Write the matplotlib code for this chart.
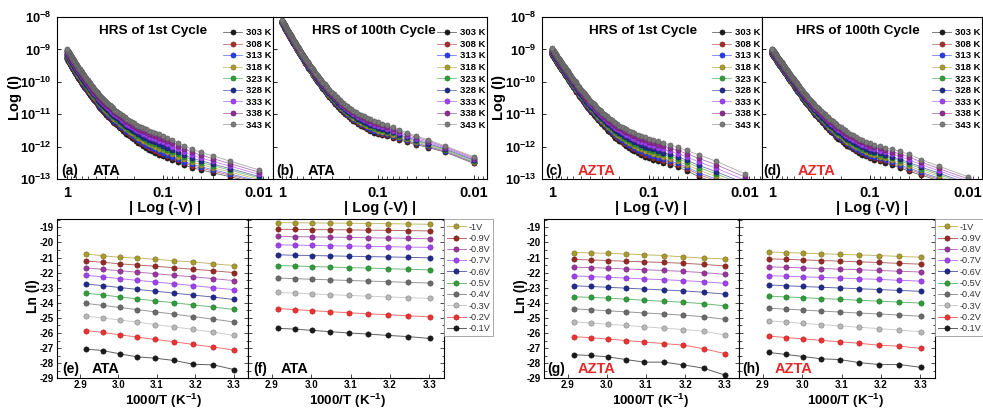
import numpy as np
import matplotlib
matplotlib.use("Agg")
import matplotlib.pyplot as plt
from matplotlib.ticker import FixedLocator, NullFormatter, LogLocator, MultipleLocator
from matplotlib.colors import to_rgb

plt.rcParams["font.family"] = ["Liberation Sans", "DejaVu Sans"]
plt.rcParams["mathtext.fontset"] = "custom"
plt.rcParams["mathtext.rm"] = "Liberation Sans"
plt.rcParams["mathtext.bf"] = "Liberation Sans:bold"
plt.rcParams["axes.unicode_minus"] = False
plt.rcParams["axes.linewidth"] = 0.8

W, H = 983, 409

# ---------------------------------------------------------------- data
temps_K = [303, 308, 313, 318, 323, 328, 333, 338, 343]
temp_labels = [f"{t} K" for t in temps_K]
temp_colors = ["#1a1a1a", "#a3302b", "#2a3cf0", "#a89b2c", "#2f9e3a",
               "#1f2a8a", "#a040f5", "#8f2a92", "#7b7b7b"]
# where each temperature sits between the 303 K and the 343 K sweep
temp_pos = [0.0, 0.1, 0.18, 0.3, 0.42, 0.52, 0.68, 0.84, 1.0]

# reverse sweep |V| = 0.01 ... 1.00 V
sweep_V = np.arange(1, 101) / 100

# log10(I) of the 303 K (lo) and 343 K (hi) sweeps, |V| = 0.01 ... 1.00
lo_a = [-13.14, -12.93, -12.81, -12.72, -12.65, -12.57, -12.49, -12.42, -12.36, -12.30,
        -12.25, -12.19, -12.14, -12.09, -12.04, -11.98, -11.93, -11.88, -11.82, -11.77,
        -11.73, -11.68, -11.64, -11.60, -11.56, -11.51, -11.47, -11.43, -11.38, -11.34,
        -11.30, -11.27, -11.23, -11.19, -11.16, -11.12, -11.08, -11.04, -11.01, -10.97,
        -10.94, -10.90, -10.87, -10.83, -10.80, -10.77, -10.73, -10.70, -10.66, -10.63,
        -10.60, -10.57, -10.54, -10.51, -10.48, -10.44, -10.41, -10.38, -10.35, -10.32,
        -10.29, -10.26, -10.23, -10.20, -10.18, -10.15, -10.12, -10.09, -10.06, -10.03,
        -10.00, -9.98, -9.95, -9.93, -9.90, -9.87, -9.85, -9.82, -9.80, -9.77,
        -9.74, -9.72, -9.69, -9.67, -9.64, -9.61, -9.59, -9.56, -9.54, -9.51,
        -9.49, -9.46, -9.44, -9.42, -9.40, -9.37, -9.35, -9.33, -9.30, -9.28]
hi_a = [-12.72, -12.45, -12.29, -12.18, -12.08, -11.98, -11.88, -11.80, -11.73, -11.66,
        -11.62, -11.58, -11.55, -11.51, -11.47, -11.43, -11.39, -11.36, -11.32, -11.28,
        -11.24, -11.21, -11.17, -11.14, -11.10, -11.06, -11.03, -10.99, -10.96, -10.92,
        -10.89, -10.86, -10.82, -10.79, -10.76, -10.73, -10.70, -10.66, -10.63, -10.60,
        -10.57, -10.54, -10.50, -10.47, -10.44, -10.41, -10.38, -10.34, -10.31, -10.28,
        -10.25, -10.22, -10.19, -10.16, -10.13, -10.10, -10.07, -10.04, -10.01, -9.98,
        -9.95, -9.93, -9.90, -9.87, -9.85, -9.82, -9.79, -9.76, -9.74, -9.71,
        -9.69, -9.66, -9.64, -9.61, -9.59, -9.56, -9.54, -9.51, -9.49, -9.46,
        -9.44, -9.41, -9.39, -9.36, -9.34, -9.32, -9.29, -9.27, -9.24, -9.22,
        -9.20, -9.18, -9.15, -9.13, -9.11, -9.09, -9.07, -9.04, -9.02, -9.00]

lo_b = [-12.52, -12.17, -12.03, -11.94, -11.86, -11.79, -11.73, -11.68, -11.65, -11.62,
        -11.57, -11.51, -11.46, -11.41, -11.36, -11.30, -11.25, -11.20, -11.14, -11.09,
        -11.04, -10.98, -10.93, -10.88, -10.83, -10.77, -10.72, -10.67, -10.61, -10.56,
        -10.51, -10.46, -10.42, -10.37, -10.32, -10.27, -10.22, -10.18, -10.13, -10.08,
        -10.04, -10.00, -9.96, -9.92, -9.88, -9.83, -9.79, -9.75, -9.71, -9.67,
        -9.63, -9.60, -9.56, -9.53, -9.49, -9.45, -9.42, -9.38, -9.35, -9.31,
        -9.28, -9.24, -9.21, -9.18, -9.15, -9.11, -9.08, -9.05, -9.01, -8.98,
        -8.95, -8.92, -8.89, -8.86, -8.84, -8.81, -8.78, -8.75, -8.72, -8.69,
        -8.66, -8.64, -8.61, -8.58, -8.56, -8.53, -8.50, -8.47, -8.45, -8.42,
        -8.40, -8.37, -8.35, -8.32, -8.30, -8.27, -8.25, -8.22, -8.20, -8.17]
hi_b = [-12.32, -11.98, -11.79, -11.67, -11.57, -11.48, -11.40, -11.34, -11.29, -11.24,
        -11.20, -11.15, -11.11, -11.06, -11.02, -10.98, -10.93, -10.89, -10.84, -10.80,
        -10.75, -10.71, -10.66, -10.62, -10.57, -10.52, -10.48, -10.43, -10.39, -10.34,
        -10.30, -10.25, -10.21, -10.17, -10.13, -10.08, -10.04, -10.00, -9.95, -9.91,
        -9.87, -9.83, -9.80, -9.76, -9.72, -9.68, -9.64, -9.61, -9.57, -9.53,
        -9.50, -9.46, -9.43, -9.39, -9.36, -9.33, -9.29, -9.26, -9.22, -9.19,
        -9.16, -9.13, -9.10, -9.07, -9.04, -9.00, -8.97, -8.94, -8.91, -8.88,
        -8.85, -8.82, -8.80, -8.77, -8.74, -8.71, -8.68, -8.66, -8.63, -8.60,
        -8.57, -8.55, -8.52, -8.50, -8.47, -8.44, -8.42, -8.39, -8.37, -8.34,
        -8.32, -8.29, -8.27, -8.24, -8.22, -8.20, -8.17, -8.15, -8.12, -8.10]

lo_c = [-13.45, -13.12, -12.93, -12.75, -12.63, -12.56, -12.50, -12.45, -12.40, -12.36,
        -12.31, -12.25, -12.20, -12.14, -12.09, -12.04, -11.98, -11.93, -11.87, -11.82,
        -11.77, -11.72, -11.66, -11.61, -11.56, -11.51, -11.46, -11.40, -11.35, -11.30,
        -11.26, -11.22, -11.17, -11.13, -11.09, -11.05, -11.01, -10.96, -10.92, -10.88,
        -10.84, -10.80, -10.77, -10.73, -10.69, -10.65, -10.61, -10.58, -10.54, -10.50,
        -10.47, -10.43, -10.40, -10.36, -10.33, -10.30, -10.26, -10.23, -10.19, -10.16,
        -10.13, -10.10, -10.07, -10.04, -10.01, -9.98, -9.95, -9.92, -9.89, -9.86,
        -9.83, -9.81, -9.78, -9.76, -9.73, -9.70, -9.68, -9.65, -9.63, -9.60,
        -9.58, -9.55, -9.53, -9.50, -9.48, -9.46, -9.43, -9.41, -9.38, -9.36,
        -9.34, -9.32, -9.29, -9.27, -9.25, -9.23, -9.21, -9.18, -9.16, -9.14]
hi_c = [-12.84, -12.45, -12.26, -12.12, -12.02, -11.95, -11.89, -11.84, -11.79, -11.75,
        -11.71, -11.67, -11.63, -11.59, -11.55, -11.51, -11.47, -11.43, -11.39, -11.35,
        -11.31, -11.27, -11.23, -11.19, -11.15, -11.11, -11.07, -11.03, -10.99, -10.95,
        -10.91, -10.88, -10.84, -10.80, -10.77, -10.73, -10.69, -10.65, -10.62, -10.58,
        -10.55, -10.51, -10.48, -10.44, -10.41, -10.38, -10.34, -10.31, -10.27, -10.24,
        -10.21, -10.18, -10.15, -10.12, -10.09, -10.05, -10.02, -9.99, -9.96, -9.93,
        -9.90, -9.87, -9.85, -9.82, -9.79, -9.76, -9.73, -9.71, -9.68, -9.65,
        -9.63, -9.60, -9.58, -9.55, -9.53, -9.50, -9.48, -9.45, -9.43, -9.40,
        -9.38, -9.36, -9.33, -9.31, -9.29, -9.27, -9.25, -9.22, -9.20, -9.18,
        -9.16, -9.14, -9.12, -9.10, -9.08, -9.05, -9.03, -9.01, -8.99, -8.97]

lo_d = [-13.35, -13.05, -12.88, -12.76, -12.65, -12.57, -12.50, -12.45, -12.40, -12.36,
        -12.30, -12.25, -12.19, -12.14, -12.08, -12.02, -11.97, -11.91, -11.86, -11.80,
        -11.75, -11.70, -11.64, -11.59, -11.54, -11.49, -11.44, -11.38, -11.33, -11.28,
        -11.24, -11.19, -11.15, -11.10, -11.06, -11.02, -10.97, -10.93, -10.88, -10.84,
        -10.80, -10.76, -10.72, -10.68, -10.65, -10.61, -10.57, -10.53, -10.49, -10.45,
        -10.42, -10.38, -10.35, -10.31, -10.28, -10.25, -10.21, -10.18, -10.14, -10.11,
        -10.08, -10.05, -10.02, -9.99, -9.97, -9.94, -9.91, -9.88, -9.85, -9.82,
        -9.79, -9.77, -9.74, -9.72, -9.69, -9.66, -9.64, -9.61, -9.59, -9.56,
        -9.54, -9.51, -9.49, -9.47, -9.45, -9.42, -9.40, -9.38, -9.35, -9.33,
        -9.31, -9.29, -9.27, -9.25, -9.23, -9.21, -9.19, -9.17, -9.15, -9.13]
hi_d = [-12.93, -12.60, -12.40, -12.24, -12.14, -12.08, -12.03, -11.98, -11.94, -11.90,
        -11.85, -11.80, -11.75, -11.70, -11.65, -11.60, -11.55, -11.50, -11.45, -11.40,
        -11.36, -11.31, -11.27, -11.22, -11.18, -11.14, -11.09, -11.05, -11.00, -10.96,
        -10.92, -10.89, -10.85, -10.81, -10.78, -10.74, -10.70, -10.66, -10.63, -10.59,
        -10.56, -10.52, -10.49, -10.45, -10.42, -10.38, -10.35, -10.31, -10.28, -10.24,
        -10.21, -10.18, -10.14, -10.11, -10.08, -10.05, -10.02, -9.98, -9.95, -9.92,
        -9.89, -9.87, -9.84, -9.81, -9.79, -9.76, -9.73, -9.70, -9.68, -9.65,
        -9.63, -9.60, -9.58, -9.55, -9.53, -9.50, -9.48, -9.45, -9.43, -9.40,
        -9.38, -9.36, -9.33, -9.31, -9.29, -9.27, -9.25, -9.22, -9.20, -9.18,
        -9.16, -9.14, -9.12, -9.10, -9.08, -9.06, -9.04, -9.02, -9.00, -8.98]

# Arrhenius data: ln(I) per bias, columns ordered 343 K -> 303 K
bias_labels = ["-1V", "-0.9V", "-0.8V", "-0.7V", "-0.6V",
               "-0.5V", "-0.4V", "-0.3V", "-0.2V", "-0.1V"]
bias_colors = ["#a89b2c", "#952a25", "#9a35a0", "#a040f5", "#1f2a8a",
               "#2f9e3a", "#6a6a6a", "#b8b8b8", "#f03030", "#1a1a1a"]

lnI_e = [[-20.76, -20.89, -20.98, -21.04, -21.11, -21.22, -21.29, -21.42, -21.53],
         [-21.24, -21.31, -21.42, -21.50, -21.58, -21.68, -21.78, -21.88, -22.00],
         [-21.69, -21.78, -21.88, -21.97, -22.07, -22.18, -22.28, -22.40, -22.53],
         [-22.18, -22.28, -22.40, -22.51, -22.62, -22.74, -22.86, -23.00, -23.13],
         [-22.76, -22.86, -22.99, -23.11, -23.23, -23.36, -23.49, -23.62, -23.78],
         [-23.36, -23.48, -23.61, -23.74, -23.87, -24.00, -24.14, -24.28, -24.44],
         [-24.04, -24.17, -24.31, -24.45, -24.60, -24.75, -24.92, -25.08, -25.27],
         [-24.89, -25.00, -25.14, -25.28, -25.44, -25.60, -25.76, -25.95, -26.16],
         [-25.84, -25.96, -26.12, -26.27, -26.43, -26.58, -26.76, -26.93, -27.13],
         [-27.07, -27.16, -27.38, -27.58, -27.67, -27.82, -28.07, -28.11, -28.42]]
lnI_f = [[-18.69, -18.70, -18.71, -18.72, -18.73, -18.75, -18.76, -18.78, -18.80],
         [-19.13, -19.14, -19.15, -19.16, -19.17, -19.19, -19.20, -19.22, -19.24],
         [-19.60, -19.62, -19.63, -19.65, -19.67, -19.69, -19.71, -19.73, -19.76],
         [-20.16, -20.18, -20.20, -20.22, -20.24, -20.26, -20.28, -20.31, -20.33],
         [-20.82, -20.85, -20.87, -20.89, -20.92, -20.94, -20.96, -20.99, -21.02],
         [-21.53, -21.56, -21.60, -21.63, -21.67, -21.70, -21.74, -21.78, -21.82],
         [-22.36, -22.40, -22.44, -22.48, -22.52, -22.56, -22.60, -22.65, -22.69],
         [-23.31, -23.36, -23.41, -23.46, -23.51, -23.56, -23.61, -23.66, -23.71],
         [-24.38, -24.45, -24.52, -24.59, -24.66, -24.73, -24.79, -24.86, -24.93],
         [-25.69, -25.74, -25.83, -25.91, -26.00, -26.07, -26.16, -26.24, -26.36]]
lnI_g = [[-20.67, -20.69, -20.73, -20.76, -20.82, -20.87, -20.96, -21.04, -21.09],
         [-21.13, -21.16, -21.20, -21.25, -21.29, -21.33, -21.38, -21.46, -21.56],
         [-21.64, -21.67, -21.71, -21.76, -21.81, -21.86, -21.92, -22.00, -22.11],
         [-22.22, -22.26, -22.31, -22.36, -22.42, -22.47, -22.53, -22.61, -22.71],
         [-22.87, -22.92, -22.97, -23.03, -23.09, -23.15, -23.21, -23.30, -23.42],
         [-23.60, -23.64, -23.69, -23.76, -23.83, -23.90, -23.96, -24.06, -24.20],
         [-24.40, -24.46, -24.53, -24.60, -24.67, -24.74, -24.82, -24.92, -25.09],
         [-25.27, -25.33, -25.42, -25.50, -25.59, -25.68, -25.77, -25.88, -26.13],
         [-26.24, -26.31, -26.40, -26.50, -26.60, -26.70, -26.80, -27.04, -27.36],
         [-27.44, -27.49, -27.58, -27.76, -27.93, -27.93, -28.11, -28.33, -28.78]]
lnI_h = [[-20.64, -20.67, -20.71, -20.75, -20.79, -20.83, -20.87, -20.93, -20.98],
         [-21.09, -21.12, -21.16, -21.20, -21.24, -21.29, -21.33, -21.39, -21.44],
         [-21.62, -21.65, -21.69, -21.73, -21.77, -21.81, -21.86, -21.91, -21.96],
         [-22.20, -22.24, -22.28, -22.32, -22.36, -22.41, -22.45, -22.51, -22.56],
         [-22.82, -22.87, -22.92, -22.97, -23.02, -23.07, -23.12, -23.18, -23.24],
         [-23.56, -23.61, -23.66, -23.72, -23.77, -23.83, -23.89, -23.95, -24.02],
         [-24.36, -24.42, -24.48, -24.55, -24.61, -24.68, -24.74, -24.81, -24.89],
         [-25.20, -25.28, -25.36, -25.45, -25.53, -25.62, -25.71, -25.81, -25.91],
         [-26.20, -26.30, -26.39, -26.49, -26.58, -26.68, -26.81, -26.87, -27.02],
         [-27.29, -27.42, -27.56, -27.71, -27.76, -27.96, -28.09, -28.09, -28.27]]

decade_ticks = [1, 0.1, 0.01]
decade_labels = ["1", "0.1", "0.01"]
current_ticks = [1e-13, 1e-12, 1e-11, 1e-10, 1e-9, 1e-8]
current_labels = [r"$\mathbf{10^{-13}}$", r"$\mathbf{10^{-12}}$", r"$\mathbf{10^{-11}}$",
                  r"$\mathbf{10^{-10}}$", r"$\mathbf{10^{-9}}$", r"$\mathbf{10^{-8}}$"]
lnI_ticks = list(range(-29, -18))
invT_ticks = [2.9, 3.0, 3.1, 3.2, 3.3]

RED = "#e42a2a"


# ---------------------------------------------------------------- helpers
def shade(c, f):
    r, g, b = to_rgb(c)
    if f >= 0:
        return (r + (1 - r) * f, g + (1 - g) * f, b + (1 - b) * f)
    f = -f
    return (r * (1 - f), g * (1 - f), b * (1 - f))


fig = plt.figure(figsize=(W / 100, H / 100), dpi=100)
fig.patch.set_facecolor("white")


def add_axes_px(x0, y0, x1, y1):
    return fig.add_axes([x0 / W, 1 - y1 / H, (x1 - x0) / W, (y1 - y0) / H])


def fig_text(x, y, s, **kw):
    fig.text(x / W, 1 - y / H, s, **kw)


def sweep_panel(ax, lo, hi, xlim, show_y, title, title_x, tag, sample, scol, tag_x, name_x):
    lo = np.asarray(lo)
    hi = np.asarray(hi)
    handles = []
    for pos, col in zip(temp_pos, temp_colors):
        current = 10 ** (lo + pos * (hi - lo))
        h, = ax.plot(sweep_V, current, "-", color=shade(col, 0.35), lw=0.6,
                     marker="o", ms=3.7, mfc=col, mec=shade(col, -0.3), mew=0.4)
        handles.append(h)
    ax.set_xscale("log")
    ax.set_yscale("log")
    ax.set_xlim(*xlim)
    ax.set_ylim(1e-13, 1e-8)
    ax.xaxis.set_major_locator(FixedLocator(decade_ticks))
    ax.set_xticklabels(decade_labels, fontsize=10.5, fontweight="bold")
    ax.xaxis.set_minor_locator(LogLocator(base=10, subs=np.arange(2, 10)))
    ax.xaxis.set_minor_formatter(NullFormatter())
    ax.yaxis.set_major_locator(FixedLocator(current_ticks))
    ax.yaxis.set_minor_locator(FixedLocator([]))
    if show_y:
        ax.set_yticklabels(current_labels, fontsize=9.3)
    else:
        ax.set_yticklabels([])
    ax.tick_params(axis="both", which="major", direction="in", length=3, width=0.6)
    ax.tick_params(axis="x", which="major", pad=5)
    ax.tick_params(axis="y", which="major", pad=4)
    ax.tick_params(axis="both", which="minor", direction="in", length=2, width=0.5)
    ax.text(title_x, 0.912, title, transform=ax.transAxes, ha="center", va="center",
            fontsize=9.7, fontweight="bold")
    ax.text(tag_x, 0.05, tag, transform=ax.transAxes, ha="left", va="center",
            fontsize=10, fontweight="bold")
    ax.text(name_x, 0.05, sample, transform=ax.transAxes, ha="left", va="center",
            fontsize=10.5, fontweight="bold", color=scol)
    leg = ax.legend(handles, temp_labels, loc="upper right", bbox_to_anchor=(0.995, 0.93),
                    frameon=False, numpoints=1, handlelength=2.0, handletextpad=0.45,
                    labelspacing=0.27, borderpad=0.0, borderaxespad=0.0,
                    prop={"size": 6.8, "weight": "bold"})
    return leg


def arrhenius_panel(ax, table, show_y, tag, sample, scol, tag_x, name_x):
    inv_T = 1000.0 / np.array(temps_K[::-1], dtype=float)
    handles = []
    for row, col in zip(table, bias_colors):
        h, = ax.plot(inv_T, row, "-", color=shade(col, 0.3), lw=0.7,
                     marker="o", ms=3.8, mfc=col, mec=shade(col, -0.3), mew=0.4)
        handles.append(h)
    ax.set_xlim(2.84, 3.337)
    ax.set_ylim(-29, -18.47)
    ax.xaxis.set_major_locator(FixedLocator(invT_ticks))
    ax.set_xticklabels([f"{v:.1f}" for v in invT_ticks], fontsize=7, fontweight="bold")
    ax.yaxis.set_major_locator(FixedLocator(lnI_ticks))
    ax.yaxis.set_minor_locator(MultipleLocator(0.5))
    if show_y:
        ax.set_yticklabels([str(v) for v in lnI_ticks], fontsize=7, fontweight="bold")
    else:
        ax.set_yticklabels([])
    ax.tick_params(axis="both", which="both", direction="in", left=True, right=True,
                   width=0.5)
    ax.tick_params(axis="both", which="major", length=3)
    ax.tick_params(axis="x", which="major", pad=1.2)
    ax.tick_params(axis="y", which="major", pad=2.5)
    ax.tick_params(axis="both", which="minor", length=1.8)
    ax.text(tag_x, 0.057, tag, transform=ax.transAxes, ha="left", va="center",
            fontsize=10, fontweight="bold")
    ax.text(name_x, 0.057, sample, transform=ax.transAxes, ha="left", va="center",
            fontsize=10.5, fontweight="bold", color=scol)
    return handles


def bias_legend(ax, handles):
    leg = ax.legend(handles, bias_labels, loc="upper left", bbox_to_anchor=(1.0, 1.0),
                    frameon=True, fancybox=False, edgecolor="#9a9a9a", framealpha=1,
                    numpoints=1, handlelength=2.0, handletextpad=0.3, labelspacing=0.25,
                    borderpad=0.35, borderaxespad=0.0, prop={"size": 6.6})
    leg.get_frame().set_linewidth(0.6)
    for t in leg.get_texts():
        t.set_color("#333333")


# ---------------------------------------------------------------- top row
ax_a = add_axes_px(57, 17, 273, 179)
ax_b = add_axes_px(273, 17, 487, 179)
ax_c = add_axes_px(542, 17, 762, 179)
ax_d = add_axes_px(762, 17, 982, 179)

sweep_panel(ax_a, lo_a, hi_a, (1.27, 0.00715), True, "HRS of 1st Cycle", 0.447,
            "(a)", "ATA", "black", 0.019, 0.167)
sweep_panel(ax_b, lo_b, hi_b, (1.24, 0.00732), False, "HRS of 100th Cycle", 0.47,
            "(b)", "ATA", "black", 0.014, 0.164)
sweep_panel(ax_c, lo_c, hi_c, (1.27, 0.00667), True, "HRS of 1st Cycle", 0.459,
            "(c)", "AZTA", RED, 0.014, 0.164)
sweep_panel(ax_d, lo_d, hi_d, (1.265, 0.0072), False, "HRS of 100th Cycle", 0.434,
            "(d)", "AZTA", RED, 0.005, 0.164)

for xc in (165, 380, 651, 872):
    fig_text(xc, 208, "| Log (-V) |", ha="center", va="center", fontsize=10.5,
             fontweight="bold")
for xc in (15.5, 499.5):
    fig_text(xc, 97, "Log (I)", ha="center", va="center", rotation=90, fontsize=10.5,
             fontweight="bold")

# ---------------------------------------------------------------- bottom row
ax_e = add_axes_px(57, 219.3, 248, 378.3)
ax_f = add_axes_px(248, 219.3, 444, 378.3)
ax_g = add_axes_px(544, 219.3, 739, 378.3)
ax_h = add_axes_px(739, 219.3, 935, 378.3)

arrhenius_panel(ax_e, lnI_e, True, "(e)", "ATA", "black", 0.026, 0.183)
hf = arrhenius_panel(ax_f, lnI_f, False, "(f)", "ATA", "black", 0.026, 0.168)
arrhenius_panel(ax_g, lnI_g, True, "(g)", "AZTA", RED, 0.015, 0.174)
hh = arrhenius_panel(ax_h, lnI_h, False, "(h)", "AZTA", RED, 0.015, 0.184)
bias_legend(ax_f, hf)
bias_legend(ax_h, hh)

for xc in (163, 347, 650, 845):
    fig_text(xc, 400.5, r"$\mathbf{1000/T\ (K^{-1})}$", ha="center", va="center",
             fontsize=9.6)
for xc in (33, 521):
    fig_text(xc, 296, "Ln (I)", ha="center", va="center", rotation=90, fontsize=10,
             fontweight="bold")

fig.savefig("out.png", dpi=100, facecolor="white")
